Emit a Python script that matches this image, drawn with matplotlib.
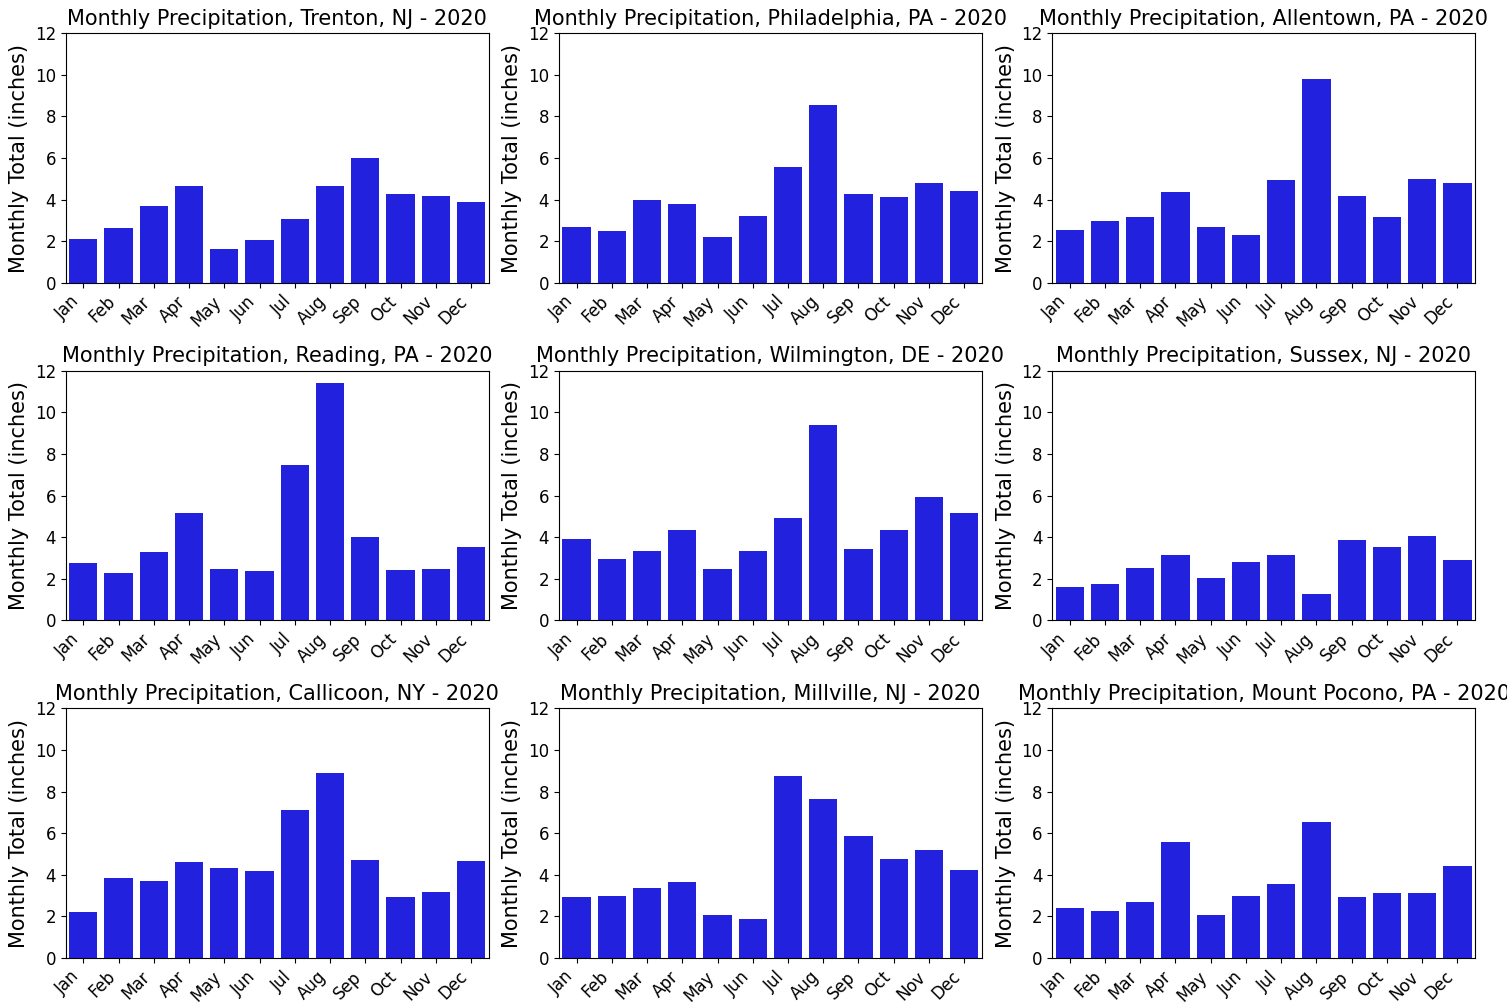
import matplotlib
matplotlib.use("Agg")
import matplotlib.pyplot as plt
import numpy as np

months = ["Jan", "Feb", "Mar", "Apr", "May", "Jun",
          "Jul", "Aug", "Sep", "Oct", "Nov", "Dec"]

stations = ["Trenton, NJ", "Philadelphia, PA", "Allentown, PA",
            "Reading, PA", "Wilmington, DE", "Sussex, NJ",
            "Callicoon, NY", "Millville, NJ", "Mount Pocono, PA"]

trenton = [2.10, 2.63, 3.69, 4.65, 1.62, 2.05, 3.06, 4.65, 5.99, 4.26, 4.17, 3.88]
philadelphia = [2.68, 2.48, 3.97, 3.78, 2.20, 3.21, 5.56, 8.54, 4.26, 4.12, 4.79, 4.41]
allentown = [2.53, 2.96, 3.16, 4.36, 2.68, 2.29, 4.94, 9.79, 4.17, 3.16, 4.98, 4.79]
reading = [2.76, 2.28, 3.29, 5.16, 2.47, 2.37, 7.47, 11.41, 4.01, 2.42, 2.47, 3.53]
wilmington = [3.91, 2.95, 3.33, 4.34, 2.47, 3.33, 4.92, 9.39, 3.43, 4.34, 5.93, 5.16]
sussex = [1.60, 1.75, 2.52, 3.14, 2.04, 2.80, 3.14, 1.27, 3.86, 3.53, 4.05, 2.90]
callicoon = [2.21, 3.84, 3.70, 4.61, 4.32, 4.18, 7.10, 8.88, 4.70, 2.93, 3.17, 4.66]
millville = [2.93, 2.98, 3.36, 3.65, 2.06, 1.87, 8.74, 7.63, 5.86, 4.75, 5.18, 4.22]
mount_pocono = [2.40, 2.26, 2.69, 5.57, 2.06, 2.98, 3.55, 6.53, 2.93, 3.12, 3.12, 4.42]

totals = [trenton, philadelphia, allentown, reading, wilmington, sussex,
          callicoon, millville, mount_pocono]

fig, axes = plt.subplots(3, 3, figsize=(15.07, 10.06), dpi=100)
fig.subplots_adjust(left=0.0436, right=0.9788, bottom=0.0477, top=0.967,
                    wspace=0.166, hspace=0.352)

x = np.arange(len(months))
for ax, name, vals in zip(axes.flat, stations, totals):
    ax.bar(x, vals, width=0.8, color="#2121de")
    ax.set_xlim(-0.5, len(months) - 0.5)
    ax.set_ylim(0, 12)
    ax.set_yticks(range(0, 13, 2))
    ax.set_xticks(x)
    ax.set_xticklabels(months, rotation=45, ha="right")
    ax.tick_params(labelsize=12)
    ax.set_ylabel("Monthly Total (inches)", fontsize=15)
    ax.set_title(f"Monthly Precipitation, {name} - 2020", fontsize=15)

fig.savefig("out.png", dpi=100)
